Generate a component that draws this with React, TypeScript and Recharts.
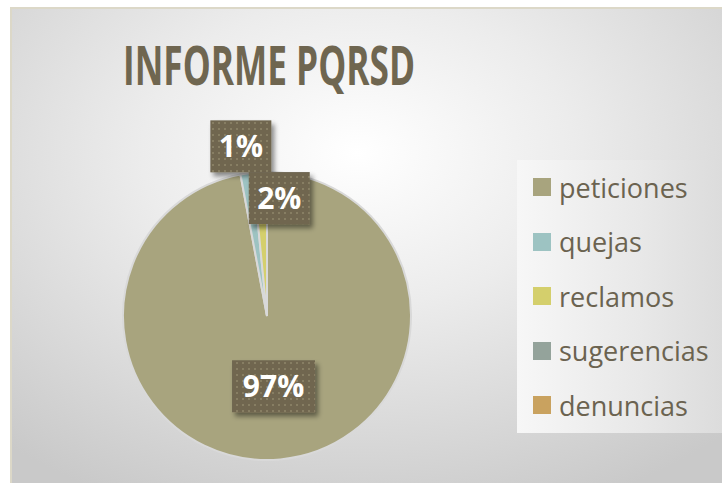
import React from "react";
import { PieChart, Pie, Cell, Legend } from "recharts";

const categories = ["peticiones", "quejas", "reclamos", "sugerencias", "denuncias"];
const values = [97, 1.4, 1.55, 0, 0];
const colors = ["#a8a47e", "#9dc3c2", "#d4cf6c", "#94a39b", "#c9a25f"];
const titleText = "INFORME PQRSD";

const data = categories.map((name, i) => ({ name, value: values[i] }));

const RADIAN = Math.PI / 180;
// per-slice label placement (radius factor, x shift, box width)
const labelLayout = [
  { r: 0.49, dx: 0, w: 83 },
  { r: 1.19, dx: -2, w: 61 },
  { r: 0.82, dx: 18, w: 61 },
  { r: 1.2, dx: 0, w: 61 },
  { r: 1.2, dx: 0, w: 61 },
];

const renderLabel = (props: any) => {
  const { cx, cy, midAngle, outerRadius, percent, index, value } = props;
  if (!value) return null;
  const lay = labelLayout[index];
  const rr = outerRadius * lay.r;
  const x = cx + rr * Math.cos(-midAngle * RADIAN) + lay.dx;
  const y = cy + rr * Math.sin(-midAngle * RADIAN);
  const w = lay.w;
  const h = 52;
  const pid = `dots${index}`;
  const fid = `shadow${index}`;
  return (
    <g key={`lbl${index}`}>
      <defs>
        <pattern id={pid} width="6" height="6" patternUnits="userSpaceOnUse">
          <rect width="6" height="6" fill="#6f6650" />
          <rect x="2" y="2" width="2" height="2" fill="#877e64" />
        </pattern>
        <filter id={fid} x="-20%" y="-20%" width="150%" height="150%">
          <feDropShadow dx="3" dy="4" stdDeviation="2.5" floodColor="#000" floodOpacity="0.45" />
        </filter>
      </defs>
      <rect x={x - w / 2} y={y - h / 2} width={w} height={h} fill={`url(#${pid})`} filter={`url(#${fid})`} />
      <text
        x={x}
        y={y + 11}
        textAnchor="middle"
        fill="#ffffff"
        fontFamily="'Open Sans', sans-serif"
        fontWeight={700}
        fontSize={30}
      >
        {`${Math.round(percent * 100)}%`}
      </text>
    </g>
  );
};

const renderLegend = () => {
  return (
    <div style={{ fontFamily: "'Open Sans', sans-serif" }}>
      {data.map((d, i) => (
        <div key={d.name} style={{ display: "flex", alignItems: "center", height: 54.5 }}>
          <div style={{ width: 18, height: 18, background: colors[i], marginRight: 8 }} />
          <span style={{ fontSize: 27, color: "#6b6350", lineHeight: "27px" }}>{d.name}</span>
        </div>
      ))}
    </div>
  );
};

export default function App() {
  return (
    <div style={{ position: "absolute", left: 0, top: 0, width: 722, height: 483, background: "#ffffff", overflow: "hidden" }}>
      <div
        style={{
          position: "absolute",
          left: 10,
          top: 7,
          width: 720,
          height: 480,
          borderLeft: "2px solid #dcd8c8",
          borderTop: "2px solid #dcd8c8",
          background: "radial-gradient(ellipse 75% 80% at 48% 30%, #ffffff 0%, #ececec 40%, #c9c9c9 100%)",
        }}
      />
      <div
        style={{
          position: "absolute",
          left: 517,
          top: 160,
          width: 205,
          height: 273,
          background: "linear-gradient(to right, #f7f7f7, #e8e8e8 60%, #dcdcdc)",
        }}
      />
      <svg style={{ position: "absolute", left: 0, top: 0 }} width={722} height={483}>
        <text
          x={123}
          y={85}
          textLength={292}
          lengthAdjust="spacingAndGlyphs"
          fill="#6f6650"
          fontFamily="'Open Sans', sans-serif"
          fontWeight={700}
          fontSize={53}
        >
          {titleText}
        </text>
      </svg>
      <div style={{ position: "absolute", left: 0, top: 0 }}>
        <PieChart width={722} height={483} margin={{ top: 0, right: 0, bottom: 0, left: 0 }}>
          <Pie
            data={data}
            dataKey="value"
            nameKey="name"
            cx={267}
            cy={316}
            outerRadius={144}
            startAngle={90}
            endAngle={-270}
            stroke="#d9d9d9"
            strokeWidth={2}
            label={renderLabel}
            labelLine={false}
            isAnimationActive={false}
          >
            {data.map((d, i) => (
              <Cell key={d.name} fill={colors[i]} />
            ))}
          </Pie>
          <Legend
            layout="vertical"
            content={renderLegend}
            wrapperStyle={{ position: "absolute", left: 533, top: 160, width: 190 }}
          />
        </PieChart>
      </div>
    </div>
  );
}
